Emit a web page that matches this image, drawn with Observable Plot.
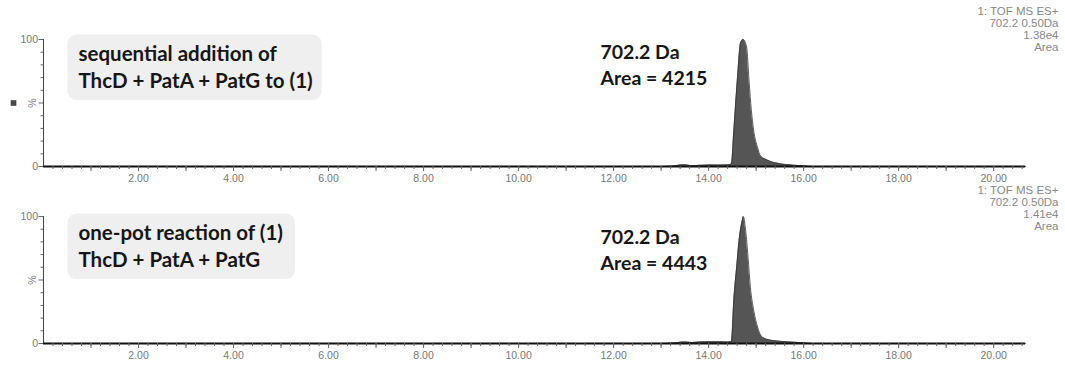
<!DOCTYPE html>
<html>
<head>
<meta charset="utf-8">
<script src="https://cdn.jsdelivr.net/npm/d3@7"></script>
<script src="https://cdn.jsdelivr.net/npm/@observablehq/plot@0.6"></script>
<style>
  html, body { margin: 0; padding: 0; background: #fff; }
  #chart { width: 1065px; height: 366px; position: relative; overflow: hidden; }
  #chart svg { display: block; }
</style>
</head>
<body>
<div id="chart"></div>
<script>
// ---- data ----
const timesTop = [0, 13.0, 13.25, 13.4, 13.5, 13.65, 13.8, 14.0, 14.2, 14.4, 14.48, 14.53, 14.57, 14.62, 14.67, 14.73, 14.80, 14.85, 14.90, 14.95, 15.03, 15.09, 15.24, 15.45, 15.79, 16.0, 16.2, 20.67];
const valuesTop = [0, 0, 0.3, 1.2, 1.4, 0.6, 0.9, 1.2, 1.1, 1.3, 2, 28, 50, 76, 97, 100, 94, 68, 44, 28, 15, 8.5, 5, 2.5, 1, 0.5, 0, 0];

const timesBottom = [0, 13.0, 13.25, 13.4, 13.5, 13.65, 13.8, 14.0, 14.2, 14.4, 14.48, 14.53, 14.59, 14.65, 14.71, 14.73, 14.78, 14.83, 14.88, 14.95, 15.03, 15.13, 15.31, 15.55, 15.8, 16.0, 16.2, 20.67];
const valuesBottom = [0, 0, 0.3, 1.0, 1.2, 0.8, 1.2, 1.4, 1.3, 1.2, 1.5, 34, 60, 84, 97, 100, 89, 68, 44, 26, 13, 5, 2.6, 1.6, 1, 0.5, 0, 0];

const xLabelTicks = [2, 4, 6, 8, 10, 12, 14, 16, 18, 20];
const xMajorTicks = d3.range(1, 21, 1);
const xMinorTicks = d3.range(0.2, 20.61, 0.2);
const yLabelTicks = [0, 100];
const yMidTick = [50];
const yMinorTicks = [10, 20, 30, 40, 60, 70, 80, 90];

const boxTextTop = "sequential addition of\nThcD + PatA + PatG to (1)";
const boxTextBottom = "one-pot reaction of (1)\nThcD + PatA + PatG";
const massTextTop = "702.2 Da\nArea = 4215";
const massTextBottom = "702.2 Da\nArea = 4443";
const metaTop = "1: TOF MS ES+\n702.2 0.50Da\n1.38e4\nArea";
const metaBottom = "1: TOF MS ES+\n702.2 0.50Da\n1.41e4\nArea";

const toRows = (ts, vs) => ts.map((t, i) => ({t, v: vs[i]}));

function panel({rows, boxText, massText, meta, marker, marginTop, marginBottom, boxDy, massDy, metaDy}) {
  const tickFont = {fontFamily: "Liberation Sans, Arial, sans-serif", fontSize: 10.5};
  const marks = [
    Plot.areaY(rows, {x: "t", y: "v", fill: "#555", curve: "monotone-x"}),
    Plot.lineY(rows, {x: "t", y: "v", stroke: "#333", strokeWidth: 0.8, curve: "monotone-x"}),
    Plot.ruleX([0], {stroke: "#444", strokeWidth: 1}),
    Plot.ruleY([0], {stroke: "#111", strokeWidth: 2}),
    Plot.axisX({ticks: xMinorTicks, tickSize: 3, tickFormat: () => "", stroke: "#666", label: null}),
    Plot.axisX({ticks: xMajorTicks, tickSize: 5, tickFormat: () => "", stroke: "#666", label: null}),
    Plot.axisX({ticks: xLabelTicks, tickSize: 0, tickPadding: 8, tickFormat: d3.format(".2f"), fill: "#777", label: null, ...tickFont}),
    Plot.axisY({ticks: yMinorTicks, tickSize: 2.5, tickFormat: () => "", stroke: "#666", label: null}),
    Plot.axisY({ticks: yLabelTicks, tickSize: 4.5, tickPadding: 1, fill: "#777", stroke: "#666", label: null, ...tickFont}),
    Plot.axisY({ticks: yMidTick, tickSize: 4.5, tickPadding: 3, tickRotate: -90, tickFormat: () => "%", fill: "#777", stroke: "#666", label: null, ...tickFont}),
    Plot.text([boxText], {text: d => d, frameAnchor: "top-left", dx: 35, dy: boxDy, fontSize: 20.5, fontFamily: "Lato", fontWeight: 700, lineHeight: 1.3, fill: "#161616"}),
    Plot.text([massText], {text: d => d, frameAnchor: "top-left", dx: 557, dy: massDy, fontSize: 19.5, fontFamily: "Lato", fontWeight: 700, lineHeight: 1.33, fill: "#161616"}),
    Plot.text([meta], {text: d => d, frameAnchor: "top-right", dx: 33, dy: metaDy, fontSize: 11.5, fontFamily: "Liberation Sans, Arial, sans-serif", lineHeight: 1.05, fill: "#888"})
  ];
  if (marker) marks.push(Plot.dot([50], {x: () => 0, y: d => d, dx: -30, symbol: "square", r: 3.2, fill: "#4a4a4a", stroke: null}));
  return Plot.plot({
    width: 1065, height: 183,
    marginLeft: 43, marginRight: 40, marginTop, marginBottom,
    x: {domain: [0, 20.67], axis: null},
    y: {domain: [0, 100], axis: null},
    style: {background: "transparent", overflow: "visible"},
    marks
  });
}

function addBox(svg, firstLine, padR) {
  const t = d3.select(svg).selectAll("text").filter(function () { return this.textContent.startsWith(firstLine); }).node();
  if (!t) return;
  const b = t.getBBox();
  // place the rect in the same coordinate system as the text
  d3.select(t.parentNode).insert("rect", () => t)
    .attr("transform", t.getAttribute("transform"))
    .attr("x", b.x - 11).attr("y", b.y - 7)
    .attr("width", b.width + 11 + padR).attr("height", b.height + 15)
    .attr("rx", 9).attr("fill", "#efefef");
}

const chart = document.getElementById("chart");
const top1 = panel({rows: toRows(timesTop, valuesTop), boxText: boxTextTop, massText: massTextTop, meta: metaTop, marker: true,
  marginTop: 39, marginBottom: 17, boxDy: 3, massDy: 1, metaDy: -33});
const bot1 = panel({rows: toRows(timesBottom, valuesBottom), boxText: boxTextBottom, massText: massTextBottom, meta: metaBottom, marker: false,
  marginTop: 33, marginBottom: 23, boxDy: 5, massDy: 9, metaDy: -31});
chart.appendChild(top1);
chart.appendChild(bot1);
addBox(top1, "sequential", 9);
addBox(bot1, "one-pot", 12);
</script>
</body>
</html>
